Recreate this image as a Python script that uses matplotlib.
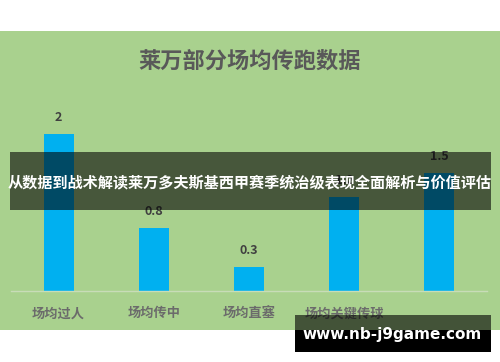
import matplotlib
matplotlib.use("Agg")
import matplotlib.pyplot as plt
from matplotlib.patches import Rectangle

plt.rcParams["font.family"] = ["Noto Sans CJK SC", "DejaVu Sans"]

# data
categories = ["场均过人", "场均传中", "场均直塞", "场均关键传球", ""]
values = [2, 0.8, 0.3, 1.2, 1.5]
value_labels = ["2", "0.8", "0.3", "1.2", "1.5"]

title = "莱万部分场均传跑数据"
banner_text = "从数据到战术解读莱万多夫斯基西甲赛季统治级表现全面解析与价值评估"
watermark = "www.nb-j9game.com"

W, H = 500, 362
fig = plt.figure(figsize=(W / 100, H / 100), dpi=100)


def px_rect(x0, y0, x1, y1, **kw):
    # rectangle in pixel coords measured from the top-left
    return Rectangle((x0 / W, 1 - y1 / H), (x1 - x0) / W, (y1 - y0) / H,
                     transform=fig.transFigure, **kw)


# green chart area
fig.patches.append(px_rect(0, 31, 500, 330, facecolor="#a9d18e", zorder=0))

ax = fig.add_axes([11 / W, 1 - 291 / H, (487 - 11) / W, (291 - 100) / H])
ax.set_zorder(1)
ax.set_facecolor("none")
x = range(len(categories))
ax.bar(x, values, width=0.315, color="#00b0f0", zorder=2)
for i, (v, lab) in enumerate(zip(values, value_labels)):
    ax.annotate(lab, (i, v), xytext=(0, 12), textcoords="offset points",
                ha="center", va="center", fontsize=9, fontweight="bold",
                color="#404040")

ax.set_xlim(-0.5, 4.5)
ax.set_ylim(0, 191 / 78.5)
ax.set_yticks([])
ax.set_xticks(list(x))
ax.set_xticklabels(categories, fontsize=9.5, fontweight="bold", color="#6b6b6b")
ax.tick_params(axis="x", length=0, pad=11)
for side in ["top", "right", "left"]:
    ax.spines[side].set_visible(False)
ax.spines["bottom"].set_color("#c8dcb8")
ax.spines["bottom"].set_linewidth(1)

fig.text(250 / W, 1 - 61 / H, title, ha="center", va="center",
         fontsize=16, fontweight="bold", color="#595959")

# dark banner across the middle
fig.patches.append(px_rect(10, 152, 491, 210, facecolor="black", alpha=0.58, zorder=5))
fig.text(250 / W, 1 - 182 / H, banner_text, ha="center", va="center",
         fontsize=10.9, fontweight="bold", color="white", zorder=6)

# watermark box at the bottom right
fig.patches.append(px_rect(295, 315, 491, 330, facecolor="black", alpha=0.6, zorder=5))
fig.patches.append(px_rect(295, 330, 491, 352, facecolor="black", zorder=5))
fig.text(392 / W, 1 - 335 / H, watermark, ha="center", va="center",
         fontsize=11, fontweight="bold", color="white", family="DejaVu Sans", zorder=6)

fig.savefig("out.png", dpi=100)
